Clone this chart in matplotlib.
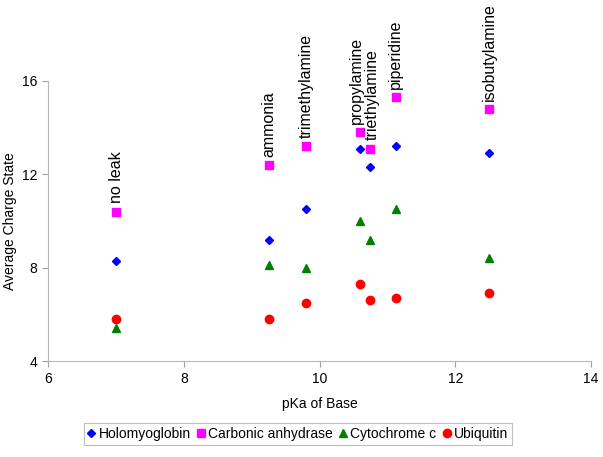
import matplotlib
matplotlib.use('Agg')
import matplotlib.pyplot as plt

plt.rcParams['font.family'] = ['Liberation Sans', 'DejaVu Sans']

# pKa of each base and its name
bases = ['no leak', 'ammonia', 'trimethylamine', 'propylamine',
         'triethylamine', 'piperidine', 'isobutylamine']
pka = [7.0, 9.25, 9.8, 10.6, 10.75, 11.12, 12.5]

# average charge state per protein
holomyoglobin = [8.3, 9.2, 10.5, 13.1, 12.3, 13.2, 12.9]
carbonic = [10.4, 12.4, 13.2, 13.8, 13.1, 15.3, 14.8]
cytochrome = [5.4, 8.1, 8.0, 10.0, 9.2, 10.5, 8.4]
ubiquitin = [5.8, 5.8, 6.5, 7.3, 6.6, 6.7, 6.9]

# small sideways nudge of the labels (points), so the close ones don't collide
nudge = [0, 0, 0, -2.5, 1.5, 0, 0]

fig = plt.figure(figsize=(6.03, 4.57), dpi=100)
ax = fig.add_axes([0.080, 0.210, 0.900, 0.613])

ax.plot(pka, holomyoglobin, 'D', color='#0000ff', ms=4.2, mec='#0000ff', label='Holomyoglobin', clip_on=False)
ax.plot(pka, carbonic, 's', color='#ff00ff', ms=5.6, label='Carbonic anhydrase', clip_on=False)
ax.plot(pka, cytochrome, '^', color='#008000', ms=6, label='Cytochrome c', clip_on=False)
ax.plot(pka, ubiquitin, 'o', color='#ff0000', ms=6, label='Ubiquitin', clip_on=False)

for name, x, y, dx in zip(bases, pka, carbonic, nudge):
    ax.annotate(name, (x, y), xytext=(dx, 6), textcoords='offset points',
                rotation=90, ha='center', va='bottom', fontsize=11.5,
                annotation_clip=False)

ax.set_xlim(6, 14)
ax.set_ylim(4, 16)
ax.set_xticks([6, 8, 10, 12, 14])
ax.set_yticks([4, 8, 12, 16])
ax.tick_params(labelsize=10, length=4, width=0.8, color='#a0a0a0', pad=4)

for s in ['top', 'right']:
    ax.spines[s].set_visible(False)
for s in ['left', 'bottom']:
    ax.spines[s].set_color('#b8b8b8')
    ax.spines[s].set_linewidth(0.8)

ax.set_xlabel('pKa of Base', fontsize=10, labelpad=8)
ax.set_ylabel('Average Charge State', fontsize=10, labelpad=3)

leg = fig.legend(loc='center', bbox_to_anchor=(0.494, 0.051), ncol=4,
                 fontsize=10, frameon=True, fancybox=False, handlelength=0.5,
                 handletextpad=0.25, columnspacing=0.5, borderpad=0.3,
                 borderaxespad=0)
leg.get_frame().set_edgecolor('#b0b0b0')
leg.get_frame().set_linewidth(0.8)

fig.savefig('out.png', dpi=100)
